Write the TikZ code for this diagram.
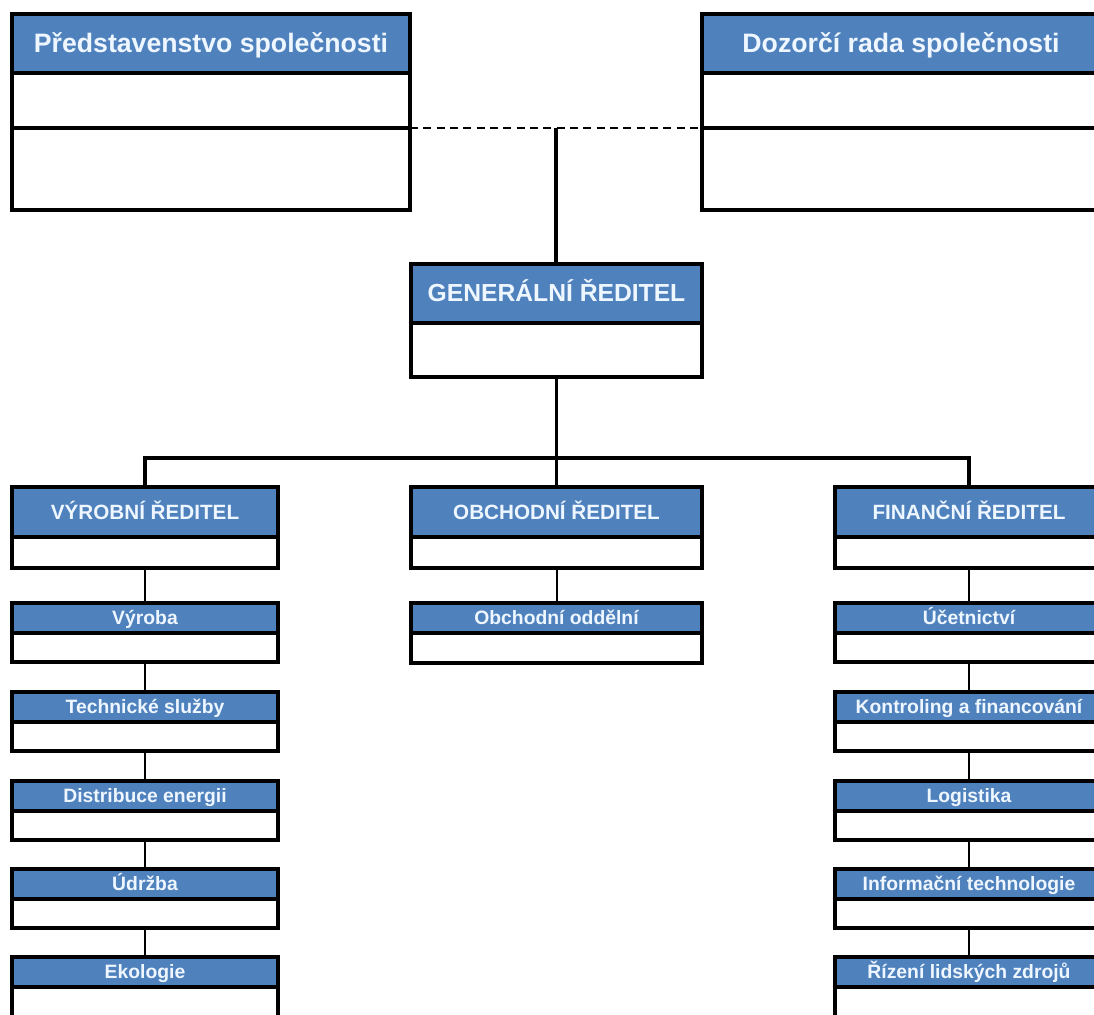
\documentclass[tikz,border=0pt]{standalone}
\usepackage{fontspec}
\setmainfont{Liberation Sans}
\definecolor{hdrblue}{HTML}{4F81BD}
\definecolor{hdrtext}{HTML}{EEF6FF}
\tikzset{
  hdr/.style={draw=black, line width=2.4pt, fill=hdrblue, text=hdrtext,
    inner sep=0pt, outer sep=0pt, anchor=north west, font=\bfseries},
  bodybox/.style={draw=black, line width=2.4pt, fill=white,
    inner sep=0pt, outer sep=0pt, anchor=north west},
  link/.style={draw=black, line width=2.3pt},
  sublink/.style={draw=black, line width=1.5pt},
  dashlink/.style={draw=black, line width=1.6pt, dash pattern=on 6pt off 4pt},
}
% \orgbox{name}{x1}{y1}{x2}{yh}{y2}{text}{fontsize}
\newcommand\orgbox[8]{%
  \node[hdr, minimum width={(#4-#2)*0.75pt}, minimum height={(#5-#3)*0.75pt},
        font=\bfseries\fontsize{#8}{#8}\selectfont,
        text height={0.70*#8}, text depth={0.02*#8}] (#1) at (#2,#3) {#7};
  \node[bodybox, minimum width={(#4-#2)*0.75pt}, minimum height={(#6-#5)*0.75pt}]
        (#1b) at (#2,#5) {};
}
\begin{document}
\begin{tikzpicture}[x=0.75pt, y=-0.75pt]
\clip (0,0) rectangle (1094,1014);
\fill[white] (0,0) rectangle (1094,1014);

% board boxes
\orgbox{pr}{12}{14}{410}{73}{128}{Představenstvo společnosti}{20pt}
\node[bodybox, minimum width={398*0.75pt}, minimum height={82*0.75pt}] (prc) at (12,128) {};
\orgbox{dr}{702}{14}{1100}{73}{128}{Dozorčí rada společnosti}{20pt}
\node[bodybox, minimum width={398*0.75pt}, minimum height={82*0.75pt}] (drc) at (702,128) {};

% general director
\orgbox{gr}{411}{264}{702}{323}{377}{GENERÁLNÍ ŘEDITEL}{18.5pt}

% level 2
\orgbox{vyr}{12}{487}{278}{537}{568}{VÝROBNÍ ŘEDITEL}{15.5pt}
\orgbox{obc}{411}{487}{702}{537}{568}{OBCHODNÍ ŘEDITEL}{15.5pt}
\orgbox{fin}{835}{487}{1103}{537}{568}{FINANČNÍ ŘEDITEL}{15.5pt}

% production units
\orgbox{v1}{12}{603}{278}{633}{662}{Výroba}{14.5pt}
\orgbox{v2}{12}{692}{278}{722}{751}{Technické služby}{14.5pt}
\orgbox{v3}{12}{781}{278}{811}{840}{Distribuce energii}{14.5pt}
\orgbox{v4}{12}{869}{278}{899}{928}{Údržba}{14.5pt}
\orgbox{v5}{12}{957}{278}{987}{1030}{Ekologie}{14.5pt}

% sales unit
\orgbox{o1}{411}{603}{702}{633}{663}{Obchodní oddělní}{14.5pt}

% finance units
\orgbox{f1}{835}{603}{1103}{633}{662}{Účetnictví}{14.5pt}
\orgbox{f2}{835}{692}{1103}{722}{751}{Kontroling a financování}{14.5pt}
\orgbox{f3}{835}{781}{1103}{811}{840}{Logistika}{14.5pt}
\orgbox{f4}{835}{869}{1103}{899}{928}{Informační technologie}{14.5pt}
\orgbox{f5}{835}{957}{1103}{987}{1030}{Řízení lidských zdrojů}{14.5pt}

% connectors
\draw[dashlink] (prc.north east) -- coordinate[pos=0.5] (mid) (drc.north west);
\draw[link] (mid) -- (mid |- gr.north);
\coordinate (bus) at (556,458);
\draw[link] (grb.south) -- (obc.north);
\draw[link] (vyr.north) -- (vyr.north |- bus) -- (fin.north |- bus) -- (fin.north);

\draw[sublink] (vyrb.south) -- (v1.north);
\draw[sublink] (v1b.south) -- (v2.north);
\draw[sublink] (v2b.south) -- (v3.north);
\draw[sublink] (v3b.south) -- (v4.north);
\draw[sublink] (v4b.south) -- (v5.north);

\draw[sublink] (obcb.south) -- (o1.north);

\draw[sublink] (finb.south) -- (f1.north);
\draw[sublink] (f1b.south) -- (f2.north);
\draw[sublink] (f2b.south) -- (f3.north);
\draw[sublink] (f3b.south) -- (f4.north);
\draw[sublink] (f4b.south) -- (f5.north);
\end{tikzpicture}
\end{document}
